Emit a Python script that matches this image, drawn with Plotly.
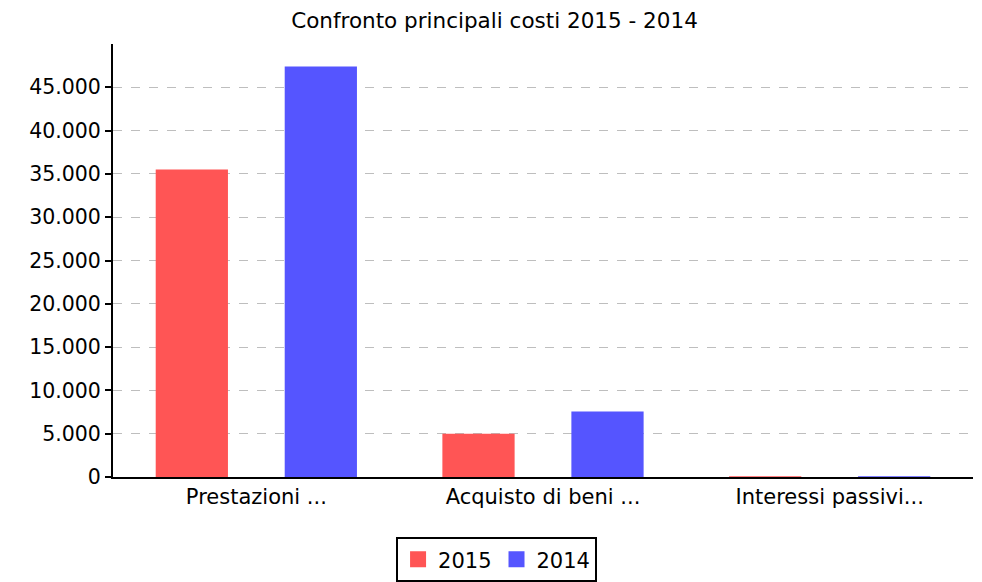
import plotly.graph_objects as go

categories = ["Prestazioni ...", "Acquisto di beni ...", "Interessi passivi..."]
series_names = ["2015", "2014"]
values_2015 = [35500, 5000, 100]
values_2014 = [47400, 7550, 100]
tick_vals = [0, 5000, 10000, 15000, 20000, 25000, 30000, 35000, 40000, 45000]
tick_text = ["0", "5.000", "10.000", "15.000", "20.000", "25.000", "30.000", "35.000", "40.000", "45.000"]
colors = ["#FF5555", "#5555FF"]

FONT = "DejaVu Sans"

fig = go.Figure()
for name, vals, col in zip(series_names, [values_2015, values_2014], colors):
    fig.add_trace(go.Bar(name=name, x=categories, y=vals, showlegend=False,
                         marker=dict(color=col, line=dict(width=0))))
# legend proxies (square swatches)
for name, col in zip(series_names, colors):
    fig.add_trace(go.Scatter(name=name, x=[None], y=[None], mode="markers",
                             marker=dict(symbol="square", size=22, color=col), showlegend=True))

fig.update_layout(
    width=982, height=582,
    paper_bgcolor="white", plot_bgcolor="white",
    barmode="group", bargap=0.1, bargroupgap=0.44,
    margin=dict(l=113, r=9, t=44, b=105, autoexpand=False),
    title=dict(text="Confronto principali costi 2015 - 2014", x=494.5 / 982, xanchor="center",
               xref="container", y=1 - 20 / 582, yanchor="middle",
               font=dict(family=FONT, size=21.5, color="black")),
    font=dict(family=FONT, size=20, color="black"),
    showlegend=True,
    legend=dict(orientation="h", x=0.446, xanchor="center", y=-0.139, yanchor="top",
                bordercolor="black", borderwidth=2, font=dict(family=FONT, size=21, color="black"),
                itemsizing="trace", traceorder="normal", itemwidth=30),
    hovermode=False,
)
fig.update_xaxes(showline=True, linecolor="black", linewidth=2, ticks="", showgrid=False,
                 tickfont=dict(family=FONT, size=21, color="black"), zeroline=False, automargin=False)
fig.update_yaxes(range=[0, 50000], tickvals=tick_vals, ticktext=tick_text,
                 showline=True, linecolor="black", linewidth=2, ticks="outside", ticklen=6,
                 tickcolor="black", tickwidth=2,
                 showgrid=True, gridcolor="#BEBEBE", griddash="dash", gridwidth=1,
                 zeroline=False, automargin=False, tickfont=dict(family=FONT, size=20.5, color="black"))

fig.write_html("out.html", config={"displayModeBar": False, "staticPlot": True},
               post_script="document.body.style.margin='0';document.body.style.overflow='hidden';")
